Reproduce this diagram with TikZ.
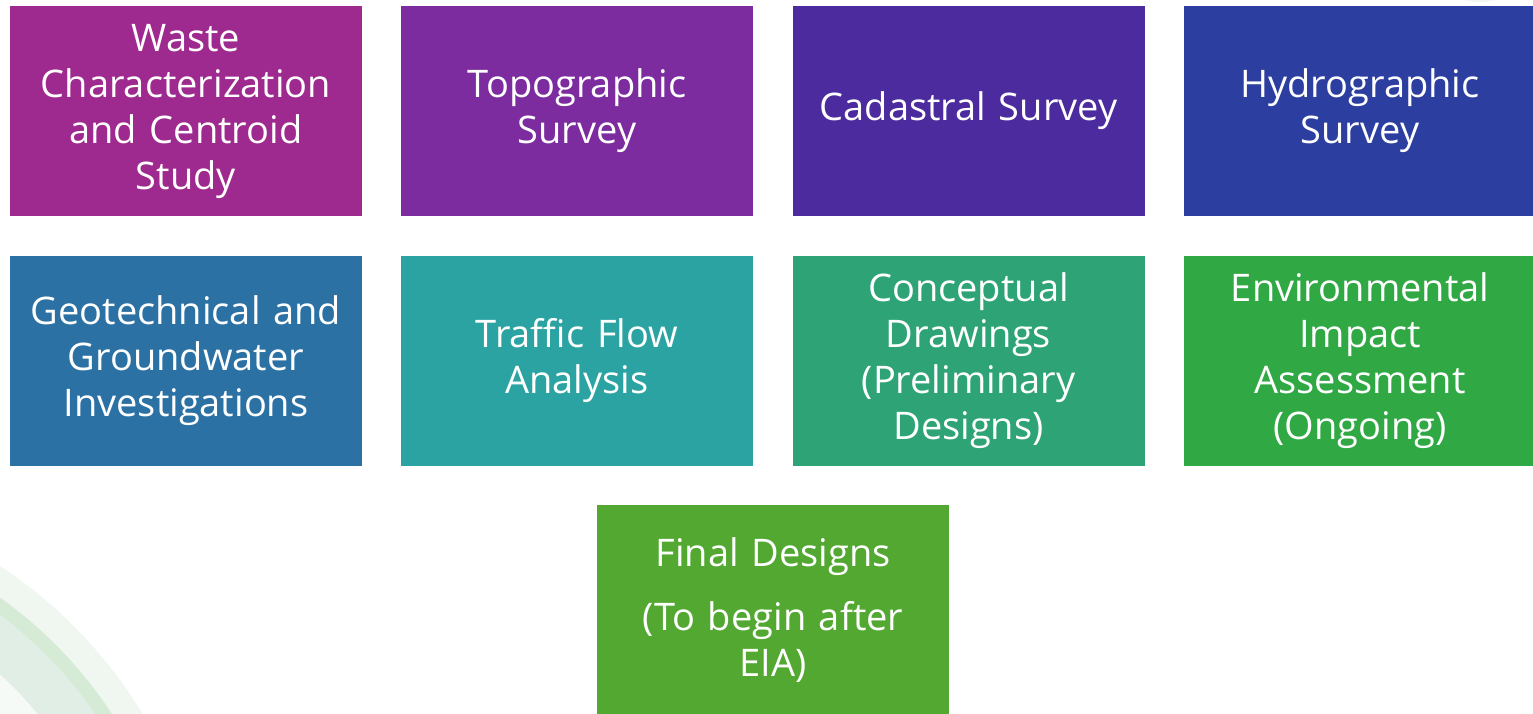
\documentclass[tikz,border=0pt]{standalone}
\usepackage{fontspec}
\setmainfont{Open Sans}
\definecolor{c1}{RGB}{158,42,143}
\definecolor{c2}{RGB}{124,44,158}
\definecolor{c3}{RGB}{76,43,158}
\definecolor{c4}{RGB}{44,62,160}
\definecolor{c5}{RGB}{44,113,163}
\definecolor{c6}{RGB}{44,163,163}
\definecolor{c7}{RGB}{46,164,118}
\definecolor{c8}{RGB}{48,168,68}
\definecolor{c9}{RGB}{82,168,48}
\definecolor{sw1}{RGB}{240,246,240}
\definecolor{sw2}{RGB}{213,235,213}
\definecolor{sw3}{RGB}{225,238,229}
\begin{document}
\begin{tikzpicture}[x=1pt,y=-1pt,
  card/.style={fill=#1,draw=none,minimum width=352pt,minimum height=210pt,
    text width=345pt,align=center,text=white,inner sep=0pt,
    font=\fontsize{38}{46}\selectfont}]
\useasboundingbox (0,0) rectangle (1533,713);
\begin{scope}
\clip (0,0) rectangle (1533,713);
% decorative swoosh bottom left
\fill[sw1] (-250,950) circle (458);
\fill[sw2] (-250,950) circle (432);
\fill[sw3] (-250,950) circle (418);
\fill[sw1!60!white] (-250,950) circle (372);
% faint top right
\fill[sw1] (1480,-60) circle (62);
\node[card=c1] (wc) at (186,111) {Waste\\Characterization\\and Centroid\\Study};
\node[card=c2] (ts) at (577,111) {Topographic\\Survey};
\node[card=c3] (cs) at (968.5,111) {Cadastral Survey};
\node[card=c4] (hs) at (1360,111) {Hydrographic\\Survey};
\node[card=c5] (gg) at (186,360.5) {Geotechnical and\\Groundwater\\Investigations};
\node[card=c6] (tf) at (577,360.5) {Traffic Flow\\Analysis};
\node[card=c7] (cd) at (968.5,360.5) {Conceptual\\Drawings\\(Preliminary\\Designs)};
\node[card=c8] (ei) at (1360,360.5) {Environmental\\Impact\\Assessment\\(Ongoing)};
\node[card=c9] (fd) at (773,610) {Final Designs\\[18pt](To begin after\\EIA)};
\end{scope}
\end{tikzpicture}
\end{document}
